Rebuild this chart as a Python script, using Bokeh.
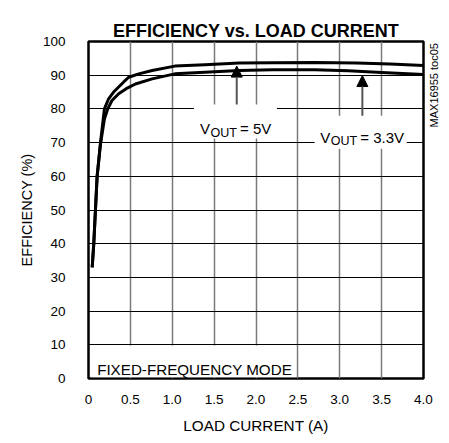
import math
from bokeh.plotting import figure
from bokeh.models import FixedTicker, Label, Arrow, NormalHead, LinearAxis, Title
from bokeh.embed import file_html
from bokeh.resources import INLINE

# ---- data ----
load_5v = [0.044, 0.063, 0.083, 0.103, 0.143, 0.19, 0.24, 0.30, 0.36, 0.42, 0.48, 0.60, 0.76, 1.03, 1.39, 1.8, 2.2, 2.7, 3.2, 3.6, 4.0]
eff_5v = [33, 40, 50, 60, 70, 80, 83, 85, 86.5, 88, 89.4, 90.4, 91.4, 92.7, 93.1, 93.6, 93.7, 93.8, 93.6, 93.3, 92.9]

load_33v = [0.044, 0.063, 0.083, 0.103, 0.143, 0.19, 0.23, 0.28, 0.36, 0.45, 0.56, 0.76, 1.03, 1.39, 1.8, 2.2, 2.7, 3.1, 3.5, 4.0]
eff_33v = [33, 40, 50, 60, 69.5, 77, 80, 82.5, 84.5, 86, 87.4, 88.9, 90.4, 90.9, 91.4, 91.6, 91.6, 91.3, 90.8, 90.2]

x_ticks = [0, 0.5, 1.0, 1.5, 2.0, 2.5, 3.0, 3.5, 4.0]
x_tick_labels = ["0", "0.5", "1.0", "1.5", "2.0", "2.5", "3.0", "3.5", "4.0"]
y_ticks = [0, 10, 20, 30, 40, 50, 60, 70, 80, 90, 100]

FONT = "Liberation Sans"

p = figure(width=449, height=443, x_range=(0, 4), y_range=(0, 100),
           output_backend="svg", toolbar_location=None,
           min_border_left=88, min_border_right=24, min_border_top=41, min_border_bottom=65,
           title="EFFICIENCY vs. LOAD CURRENT")

p.title.align = "center"
p.title.standoff = 2
p.title.text_font = FONT
p.title.text_font_size = "18px"
p.title.text_font_style = "bold"
p.title.text_color = "black"

# invisible spacer title between the frame and the visible title
p.add_layout(Title(text=".", standoff=16, text_font_size="1px", text_alpha=0.0), "above")

p.outline_line_color = "black"
p.outline_line_width = 2.5
p.outline_line_alpha = 1.0

p.xaxis.ticker = FixedTicker(ticks=x_ticks)
p.xaxis.major_label_overrides = {t: l for t, l in zip(x_ticks, x_tick_labels)}
p.yaxis.ticker = FixedTicker(ticks=y_ticks)

for ax in (p.xaxis, p.yaxis):
    ax.axis_line_color = None
    ax.major_tick_line_color = None
    ax.minor_tick_line_color = None
    ax.major_tick_out = 0
    ax.major_tick_in = 0
    ax.minor_tick_out = 0
    ax.minor_tick_in = 0
    ax.major_label_text_font = FONT
    ax.major_label_text_font_size = "13.5px"
    ax.major_label_text_color = "black"
    ax.axis_label_text_font = FONT
    ax.axis_label_text_font_style = "normal"
    ax.axis_label_text_color = "black"

p.xaxis.axis_label = "LOAD CURRENT (A)"
p.xaxis.axis_label_text_font_size = "15.3px"
p.xaxis.major_label_standoff = 16
p.xaxis.axis_label_standoff = 10

p.yaxis.axis_label = "EFFICIENCY (%)"
p.yaxis.axis_label_text_font_size = "14.5px"
p.yaxis.major_label_standoff = 23
p.yaxis.axis_label_standoff = 5

# side note on the right, as a rotated tick label
note_pos = 74.5
note_axis = LinearAxis(ticker=FixedTicker(ticks=[note_pos]),
                       major_label_overrides={note_pos: "MAX16955 toc05"},
                       major_label_orientation=math.pi / 2,
                       major_label_text_font=FONT, major_label_text_font_size="11px",
                       major_label_text_color="black", major_label_standoff=11,
                       axis_line_color=None, major_tick_line_color=None, minor_tick_line_color=None,
                       major_tick_out=0, major_tick_in=0, minor_tick_out=0, minor_tick_in=0)
p.add_layout(note_axis, "right")

p.xgrid.grid_line_color = "#7a7a7a"
p.xgrid.grid_line_width = 1.5
p.ygrid.grid_line_color = "black"
p.ygrid.grid_line_width = 1

# white boxes over grid
p.quad(left=[0.03], right=[2.48], bottom=[0.4], top=[9.8], fill_color="white", line_color=None)
p.quad(left=[1.26], right=[2.25], bottom=[71.2], top=[81.3], fill_color="white", line_color=None)
p.quad(left=[2.70], right=[3.80], bottom=[68.2], top=[78.0], fill_color="white", line_color=None)

# curves
p.line(load_5v, eff_5v, line_width=3, line_color="black", line_join="round")
p.line(load_33v, eff_33v, line_width=3, line_color="black", line_join="round")

# arrows
for xa, y0, y1 in [(1.77, 81.3, 92.7), (3.27, 78.0, 89.9)]:
    p.add_layout(Arrow(end=NormalHead(size=11, fill_color="black", line_color="black", line_width=1),
                       x_start=xa, y_start=y0, x_end=xa, y_end=y1,
                       line_color="#555555", line_width=2))

def vout_label(x, y, rest):
    p.add_layout(Label(x=x, y=y, text="V", text_font=FONT, text_font_size="15px",
                       text_color="black", text_baseline="alphabetic", text_align="left"))
    p.add_layout(Label(x=x, y=y, x_offset=10.5, y_offset=-4, text="OUT", text_font=FONT,
                       text_font_size="12.5px", text_color="black",
                       text_baseline="alphabetic", text_align="left"))
    p.add_layout(Label(x=x, y=y, x_offset=40, text=rest, text_font=FONT,
                       text_font_size="15px", text_color="black",
                       text_baseline="alphabetic", text_align="left"))

vout_label(1.332, 74.1, "= 5V")
vout_label(2.767, 71.6, "= 3.3V")

p.add_layout(Label(x=0.103, y=2.6, text="FIXED-FREQUENCY MODE", text_font=FONT,
                   text_font_size="15.2px", text_color="black",
                   text_baseline="alphabetic", text_align="left"))

open("out.html", "w").write(file_html(p, INLINE))
